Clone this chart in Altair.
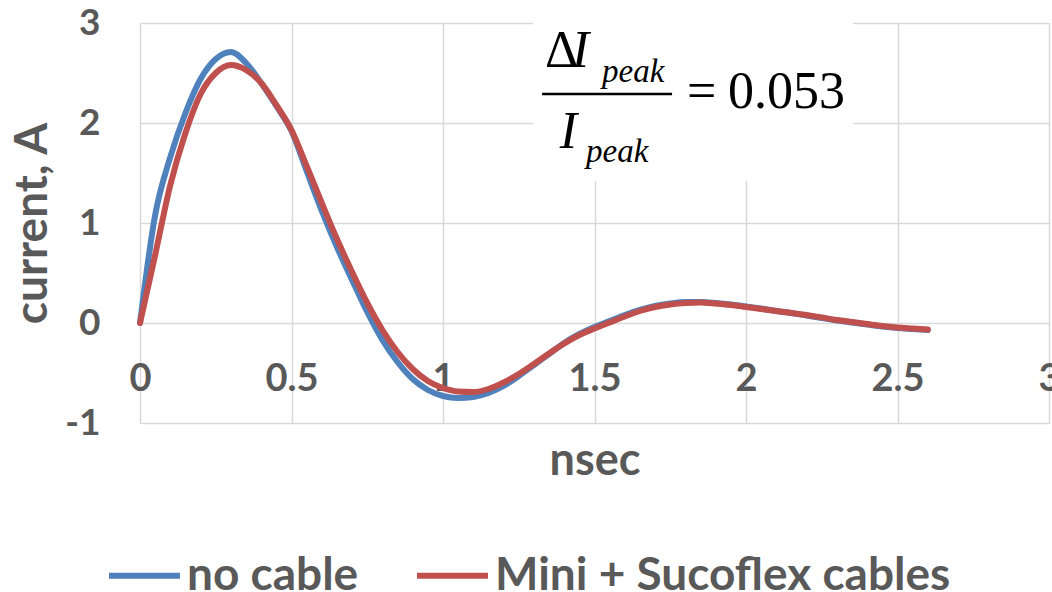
import altair as alt
import pandas as pd

# ---- data ----
x_ns = [0.00, 0.05, 0.10, 0.15, 0.20, 0.25, 0.30, 0.35, 0.40, 0.45,
        0.50, 0.55, 0.60, 0.65, 0.70, 0.75, 0.80, 0.85, 0.90, 0.95,
        1.00, 1.05, 1.10, 1.15, 1.20, 1.25, 1.30, 1.35, 1.40, 1.45,
        1.50, 1.55, 1.60, 1.65, 1.70, 1.75, 1.80, 1.85, 1.90, 1.95,
        2.00, 2.05, 2.10, 2.15, 2.20, 2.25, 2.30, 2.35, 2.40, 2.45,
        2.50, 2.55, 2.60]

no_cable = [0.00, 1.08, 1.66, 2.10, 2.44, 2.64, 2.71, 2.60, 2.40, 2.17,
            1.92, 1.52, 1.12, 0.76, 0.43, 0.11, -0.17, -0.39, -0.56, -0.67,
            -0.73, -0.75, -0.74, -0.70, -0.63, -0.53, -0.42, -0.31, -0.20, -0.11,
            -0.04, 0.02, 0.08, 0.13, 0.17, 0.195, 0.21, 0.21, 0.20, 0.185,
            0.165, 0.145, 0.12, 0.10, 0.075, 0.05, 0.025, 0.005, -0.015, -0.035,
            -0.05, -0.06, -0.07]

mini_sucoflex = [0.00, 0.68, 1.38, 1.90, 2.29, 2.50, 2.58, 2.53, 2.40, 2.18,
                 1.93, 1.57, 1.20, 0.84, 0.51, 0.20, -0.07, -0.29, -0.46, -0.58,
                 -0.65, -0.685, -0.69, -0.66, -0.595, -0.51, -0.41, -0.305, -0.205, -0.12,
                 -0.055, 0.005, 0.065, 0.12, 0.16, 0.185, 0.20, 0.205, 0.195, 0.18,
                 0.16, 0.14, 0.12, 0.10, 0.08, 0.055, 0.03, 0.01, -0.01, -0.03,
                 -0.045, -0.055, -0.065]

series_names = ["no cable", "Mini + Sucoflex cables"]
series_colors = ["#4F81BD", "#C0504D"]
x_ticks = [0, 0.5, 1, 1.5, 2, 2.5, 3]
y_ticks = [-1, 0, 1, 2, 3]

df = pd.DataFrame({
    "t": x_ns * 2,
    "current": no_cable + mini_sucoflex,
    "series": [series_names[0]] * len(x_ns) + [series_names[1]] * len(x_ns),
})
one = pd.DataFrame({"k": [0]})

GRAY = "#595959"
FONT = "Lato"
SERIF = "Liberation Serif"

x_enc = alt.X(
    "t:Q",
    scale=alt.Scale(domain=[0, 3], nice=False, zero=False),
    axis=alt.Axis(
        values=x_ticks, labelExpr="'' + datum.value", title="nsec",
        offset=-100, grid=True, gridColor="#d9d9d9", gridWidth=1.5,
        domain=False, ticks=False, labelPadding=37, titlePadding=40,
        labelFont=FONT, labelFontSize=38, labelFontWeight="bold", labelColor=GRAY,
        titleFont=FONT, titleFontSize=45, titleFontWeight="bold", titleColor=GRAY,
        labelOverlap=False, labelFlush=False,
    ),
)
y_enc = alt.Y(
    "current:Q",
    scale=alt.Scale(domain=[-1, 3], nice=False, zero=False),
    axis=alt.Axis(
        values=y_ticks, labelExpr="'' + datum.value", title="current, A",
        grid=True, gridColor="#d9d9d9", gridWidth=1.5,
        domain=False, ticks=False, labelPadding=40, titlePadding=8,
        labelFont=FONT, labelFontSize=37, labelFontWeight="bold", labelColor=GRAY,
        titleFont=FONT, titleFontSize=46, titleFontWeight="bold", titleColor=GRAY,
        labelFlush=False,
    ),
)
color_enc = alt.Color(
    "series:N",
    scale=alt.Scale(domain=series_names, range=series_colors),
    title=None,
    legend=alt.Legend(
        orient="none", direction="horizontal", legendX=-34, legendY=514,
        symbolType="stroke", symbolSize=5041, symbolStrokeWidth=6,
        labelFont=FONT, labelFontSize=46, labelFontWeight="bold", labelColor=GRAY,
        labelLimit=1000, labelOffset=4, columnPadding=46, padding=0,
    ),
)

base = alt.Chart(df)

box = alt.Chart(one).mark_rect(color="white").encode(
    x=alt.datum(1.297), x2=alt.datum(2.353), y=alt.datum(3.18), y2=alt.datum(1.42)
)

line_blue = base.transform_filter(alt.datum.series == series_names[0]).mark_line(
    strokeWidth=6, interpolate="monotone", strokeCap="round"
).encode(x=x_enc, y=y_enc, color=color_enc)

line_red = base.transform_filter(alt.datum.series == series_names[1]).mark_line(
    strokeWidth=6, interpolate="monotone", strokeCap="round"
).encode(x=x_enc, y=y_enc, color=color_enc)


def txt(s, xd, yd, size, italic=False):
    return alt.Chart(one).mark_text(
        text=s, font=SERIF, fontSize=size, fontStyle="italic" if italic else "normal",
        align="left", baseline="alphabetic", color="black"
    ).encode(x=alt.datum(xd), y=alt.datum(yd))


delta = txt("Δ", 1.337, 2.56, 52)
i_top = txt("I", 1.425, 2.56, 52, italic=True)
peak_top = txt("peak", 1.525, 2.41, 33, italic=True)
i_bot = txt("I", 1.385, 1.75, 52, italic=True)
peak_bot = txt("peak", 1.472, 1.61, 33, italic=True)
equals = txt("=", 1.805, 2.15, 52)
value = txt("0.053", 1.941, 2.15, 52)
frac = alt.Chart(one).mark_rule(color="black", strokeWidth=2.5).encode(
    x=alt.datum(1.327), x2=alt.datum(1.756), y=alt.datum(2.29)
)

chart = alt.layer(
    box, line_blue, line_red, delta, i_top, peak_top, frac, i_bot, peak_bot, equals, value
).properties(
    width=909, height=400,
    padding={"left": 140, "top": 23, "right": 3, "bottom": 169},
    autosize=alt.AutoSizeParams(type="none"),
).configure_view(strokeWidth=0).configure(background="white")

chart.save("out.html", embed_options={"renderer": "svg", "actions": False})
